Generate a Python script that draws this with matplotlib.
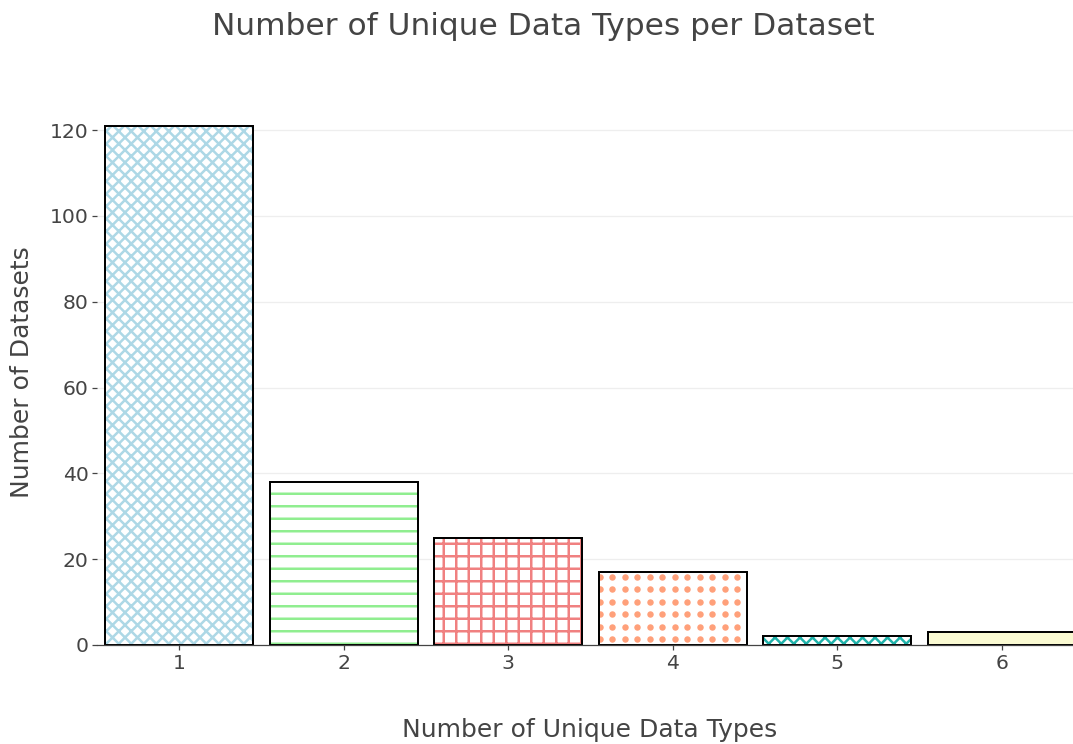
import matplotlib
matplotlib.use('Agg')
import matplotlib.pyplot as plt
import numpy as np

# data
n_types = [1, 2, 3, 4, 5, 6]
n_datasets = [121, 38, 25, 17, 2, 3]
fill_colors = ["#add8e6", "#90ee90", "#f08080", "#ffa07a", "#20b2aa", "#fafad2"]
hatches = ["xx", "-", "+", "dots", "xx", ""]

W, H, DPI = 1073, 744, 75
plt.rcParams['font.family'] = ['DejaVu Sans']
plt.rcParams['hatch.linewidth'] = 2.4
text_color = "#444444"
bar_w = 0.9

fig = plt.figure(figsize=(W / DPI, H / DPI), dpi=DPI)
ax = fig.add_axes([97 / W, 1 - 645 / H, (1084 - 97) / W, (645 - 100) / H])
ax.set_xlim(0.5, 6.5)
ax.set_ylim(0, 127)


def dot_pattern(ax, patch, color, step=12.5, size=6.2):
  """Fill a bar with a regular grid of dots (pixel spacing), clipped to the bar."""
  x0, y0 = patch.get_x(), patch.get_y()
  x1, y1 = x0 + patch.get_width(), y0 + patch.get_height()
  (px0, py0), (px1, py1) = ax.transData.transform([(x0, y0), (x1, y1)])
  gx = np.arange(px0 + 1, px1 + step, step)
  gy = np.arange(py0 + 6, py1 + step, step)
  gx, gy = np.meshgrid(gx, gy)
  pts = ax.transData.inverted().transform(np.column_stack([gx.ravel(), gy.ravel()]))
  dots, = ax.plot(pts[:, 0], pts[:, 1], "o", ms=size, color=color, mew=0, zorder=2.5)
  dots.set_clip_path(patch)


for x, h, c, hatch in zip(n_types, n_datasets, fill_colors, hatches):
  if hatch == "dots":
    b = ax.bar(x, h, width=bar_w, color="white", linewidth=0, zorder=2)
    dot_pattern(ax, b.patches[0], c)
  elif hatch:
    # pattern drawn in the fill colour on white
    ax.bar(x, h, width=bar_w, color="white", edgecolor=c, hatch=hatch, linewidth=0, zorder=2)
  else:
    ax.bar(x, h, width=bar_w, color=c, linewidth=0, zorder=2)
  ax.bar(x, h, width=bar_w, color="none", edgecolor="black", linewidth=1.9, zorder=3)

ax.set_xticks(n_types)
ax.set_yticks([0, 20, 40, 60, 80, 100, 120])

for y in [20, 40, 60, 80, 100, 120]:
  ax.axhline(y, color="#eeeeee", linewidth=1.2, zorder=0)

for s in ["top", "right", "left"]:
  ax.spines[s].set_visible(False)
ax.spines["bottom"].set_color(text_color)
ax.spines["bottom"].set_linewidth(1.2)
ax.spines["bottom"].set_zorder(4)

ax.tick_params(axis="both", colors=text_color, labelsize=19.5, length=5, width=1.2, direction="out")
ax.tick_params(axis="y", pad=3)
ax.tick_params(axis="x", pad=4)

fig.text(590 / W, 1 - 737 / H, "Number of Unique Data Types", ha="center", va="baseline",
         fontsize=24, color=text_color)
fig.text(22 / W, 1 - 372 / H, "Number of Datasets", ha="center", va="center",
         rotation=90, fontsize=24, color=text_color)
fig.text(543.5 / W, 1 - 35 / H, "Number of Unique Data Types per Dataset",
         ha="center", va="baseline", fontsize=30, color=text_color)

fig.savefig("out.png", dpi=DPI)
